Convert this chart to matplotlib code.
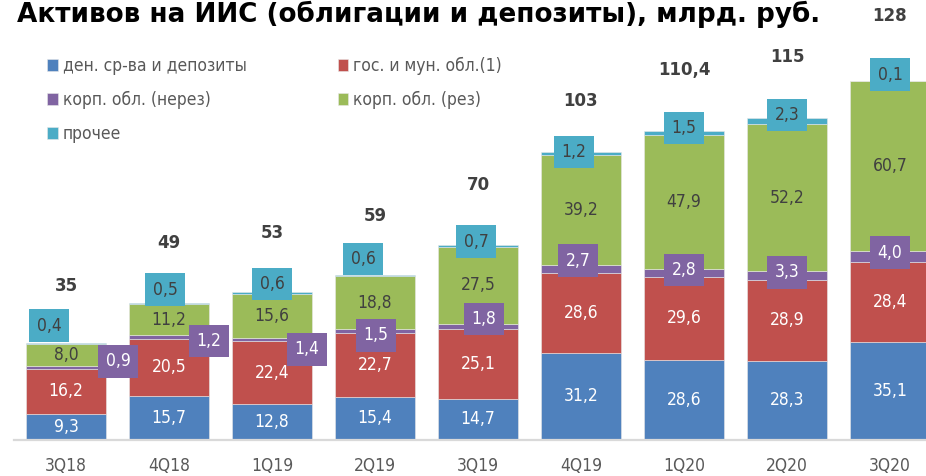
import numpy as np
import matplotlib
matplotlib.use("Agg")
import matplotlib.pyplot as plt

# data
quarters = ['3Q18', '4Q18', '1Q19', '2Q19', '3Q19', '4Q19', '1Q20', '2Q20', '3Q20']
cash = [9.3, 15.7, 12.8, 15.4, 14.7, 31.2, 28.6, 28.3, 35.1]
gov = [16.2, 20.5, 22.4, 22.7, 25.1, 28.6, 29.6, 28.9, 28.4]
corp_nonres = [0.9, 1.2, 1.4, 1.5, 1.8, 2.7, 2.8, 3.3, 4.0]
corp_res = [8.0, 11.2, 15.6, 18.8, 27.5, 39.2, 47.9, 52.2, 60.7]
other = [0.4, 0.5, 0.6, 0.6, 0.7, 1.2, 1.5, 2.3, 0.1]
totals = ['35', '49', '53', '59', '70', '103', '110,4', '115', '128']

names = ['ден. ср-ва и депозиты', 'гос. и мун. обл.(1)', 'корп. обл. (нерез)',
         'корп. обл. (рез)', 'прочее']
colors = ['#4F81BD', '#C0504D', '#8064A2', '#9BBB59', '#4BACC6']

# label offsets in pixels (dx, dy) for the boxed labels
other_off = [(-17, 17), (-4, 13), (0, 8), (-12, 16), (-2, 3), (-7, 0), (0, 3), (0, 3), (0, 6)]
nonres_off = [(52, 6), (40, -4), (35, -10), (1, -4), (6, 7), (-3, 8), (0, 3), (0, 3), (0, 4)]
total_off = [57, 60, 59, 59, 60, 51, 61, 61, 65]

W, H = 926, 476
fig = plt.figure(figsize=(W / 100, H / 100), dpi=100)
ax = fig.add_axes([0, 36 / H, 1, 440 / H])
px_per_unit = 2.8
x0, step = 66, 103
ax.set_xlim(-x0 / step, (W - x0) / step)
ax.set_ylim(0, 440 / px_per_unit)
ax.axis('off')

x = np.arange(len(quarters))
series = [cash, gov, corp_nonres, corp_res, other]
bottom = np.zeros(len(quarters))
bars = []
bottoms = []
for vals, c, n in zip(series, colors, names):
    b = ax.bar(x, vals, 0.777, bottom=bottom, color=c, label=n,
               edgecolor='#E8E8E8', linewidth=0.4)
    bars.append(b)
    bottoms.append(bottom.copy())
    bottom = bottom + np.array(vals)

# axis line
ax.plot([(14 - x0) / step, (W - x0) / step], [0, 0], color='#D9D9D9', lw=1.6,
        clip_on=False, zorder=1)

fs = 12.5
cond = dict(fontsize=fs, fontstretch='condensed')
k = 0.72  # px -> pt

def fmt(v):
    return f'{v:.1f}'.replace('.', ',')

for i in range(len(quarters)):
    # inside labels
    ax.text(i, cash[i] / 2, fmt(cash[i]), ha='center', va='center', color='white', **cond)
    ax.text(i, bottoms[1][i] + gov[i] / 2, fmt(gov[i]), ha='center', va='center',
            color='white', **cond)
    ax.text(i, bottoms[3][i] + corp_res[i] / 2, fmt(corp_res[i]), ha='center', va='center',
            color='#404040', **cond)
    # boxed labels
    dx, dy = nonres_off[i]
    ax.annotate(fmt(corp_nonres[i]), (i, bottoms[2][i] + corp_nonres[i] / 2),
                xytext=(dx * k, dy * k), textcoords='offset points',
                ha='center', va='center', color='white', **cond,
                bbox=dict(boxstyle='square,pad=0.42', fc=colors[2], ec='none'))
    dx, dy = other_off[i]
    ax.annotate(fmt(other[i]), (i, bottom[i]),
                xytext=(dx * k, dy * k), textcoords='offset points',
                ha='center', va='center', color='#404040', **cond,
                bbox=dict(boxstyle='square,pad=0.42', fc=colors[4], ec='none'))
    # totals
    ax.annotate(totals[i], (i, bottom[i]), xytext=(0, total_off[i] * k),
                textcoords='offset points', ha='center', va='center',
                color='#404040', fontsize=12, fontweight='bold')
    # tick labels
    ax.text(i, -26 / px_per_unit, quarters[i], ha='center', va='center',
            color='#595959', clip_on=False, **cond)

order = [0, 2, 4, 1, 3]
leg = ax.legend([bars[j] for j in order], [names[j] for j in order], ncol=2,
                loc='upper left', bbox_to_anchor=(40 / W, 1 - 50 / H),
                bbox_transform=fig.transFigure, frameon=False,
                prop=dict(size=fs, stretch='condensed'),
                handlelength=0.62, handleheight=0.62, handletextpad=0.28,
                columnspacing=5.25, labelspacing=0.92, borderaxespad=0)
for t in leg.get_texts():
    t.set_color('#595959')

fig.text(17 / W, 1 - 22 / H, 'Активов на ИИС (облигации и депозиты), млрд. руб.',
         fontsize=18.9, fontweight='bold', color='black', va='baseline', ha='left')

fig.savefig('out.png', dpi=100)
